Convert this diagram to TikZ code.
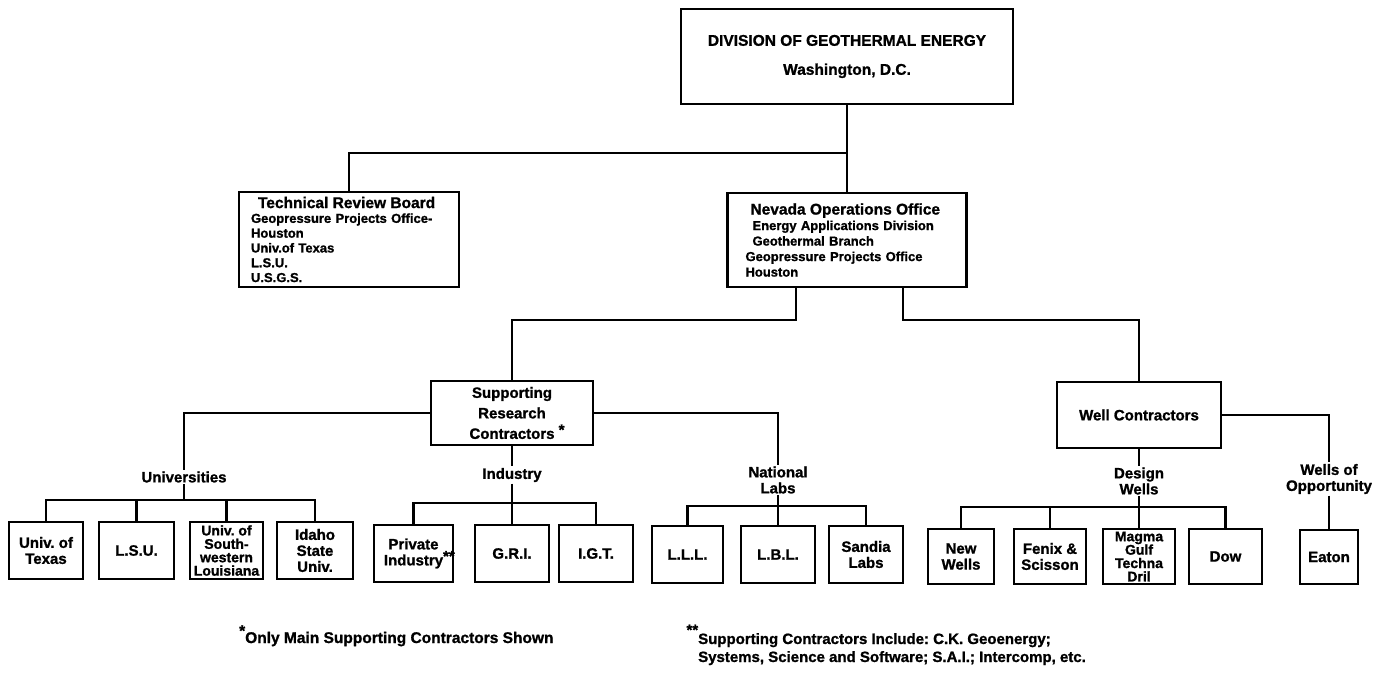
\documentclass[tikz,border=0pt]{standalone}
\usepackage{fontspec}
\setmainfont{Liberation Sans}[BoldFeatures={FakeBold=1.2}]
\frenchspacing
\newcommand\fmain{\fontsize{15}{16}\selectfont}
\newcommand\ftight{\fontsize{14}{13.4}\selectfont}
\begin{document}
\begin{tikzpicture}[x=1pt,y=-1pt,
  every node/.style={font=\bfseries\fmain},
  box/.style={draw, line width=2.4pt, inner sep=0pt, align=center},
  leaf/.style={box, minimum height=57pt},
  lbl/.style={inner sep=1.5pt, align=center},
  ln/.style={line width=2.4pt}]
\useasboundingbox (0,0) rectangle (1388,691);
% top level
\node[box, minimum width=332pt, minimum height=95pt, font=\bfseries\fontsize{15.5}{29}\selectfont] (doe) at (847,56.5) {DIVISION OF GEOTHERMAL ENERGY\\Washington, D.C.};
\node[box, minimum width=220pt, minimum height=95pt, text width=196pt, align=left, font=\bfseries\fontsize{13}{14.8}\selectfont] (trb) at (349,239.5)
 {{\fontsize{15.5}{14.8}\selectfont\hspace*{7pt}Technical Review Board}\\Geopressure Projects Office-\\Houston\\Univ.of Texas\\L.S.U.\\U.S.G.S.};
\node[box, minimum width=239pt, minimum height=94pt, text width=203pt, align=left, font=\bfseries\fontsize{13}{15.5}\selectfont] (nvo) at (847,240)
 {{\fontsize{15.5}{15.5}\selectfont\hspace*{5pt}Nevada Operations Office}\\\hspace*{7pt}Energy Applications Division\\\hspace*{7pt}Geothermal Branch\\Geopressure Projects Office\\Houston};
\node[box, minimum width=162pt, minimum height=64pt, font=\bfseries\fontsize{15}{20.5}\selectfont] (src) at (512,413) {Supporting\\Research\\Contractors\rlap{\ \raisebox{4pt}{*}}};
\node[box, minimum width=164pt, minimum height=66pt] (wc) at (1139,415) {Well Contractors};
% group labels
\node[lbl] (uni) at (184,477) {Universities};
\node[lbl] (ind) at (512,475) {Industry};
\node[lbl] (nat) at (778,480) {National\\Labs};
\node[lbl] (dw) at (1139,481) {Design\\Wells};
\node[lbl] (wop) at (1329,479) {Wells of\\Opportunity};
% universities
\node[leaf, minimum width=74pt] (u1) at (46,550.5) {Univ. of\\Texas};
\node[leaf, minimum width=75pt] (u2) at (136.5,550.5) {L.S.U.};
\node[leaf, minimum width=73pt, font=\bfseries\ftight] (u3) at (226.5,550.5) {Univ. of\\South-\\western\\Louisiana};
\node[leaf, minimum width=76pt] (u4) at (315,550.5) {Idaho\\State\\Univ.};
% industry
\node[leaf, minimum width=79pt] (i1) at (413.5,553.5) {Private\\Industry\rlap{\raisebox{4pt}{**}}};
\node[leaf, minimum width=74pt] (i2) at (512,553.5) {G.R.I.};
\node[leaf, minimum width=74pt] (i3) at (596,553.5) {I.G.T.};
% labs
\node[leaf, minimum width=71pt] (l1) at (687.5,554.5) {L.L.L.};
\node[leaf, minimum width=74pt] (l2) at (778,554.5) {L.B.L.};
\node[leaf, minimum width=74pt] (l3) at (866,554.5) {Sandia\\Labs};
% wells
\node[leaf, minimum width=66pt, minimum height=55pt] (w1) at (961,556.5) {New\\Wells};
\node[leaf, minimum width=72pt, minimum height=55pt] (w2) at (1050,556.5) {Fenix \&\\Scisson};
\node[leaf, minimum width=72pt, minimum height=55pt, font=\bfseries\ftight] (w3) at (1139,556.5) {Magma\\Gulf\\Techna\\Dril};
\node[leaf, minimum width=73pt, minimum height=55pt] (w4) at (1225.5,556.5) {Dow};
\node[leaf, minimum width=58pt, minimum height=54pt] (e1) at (1329,557) {Eaton};
% footnotes
\node[anchor=base west, inner sep=0pt, font=\bfseries\fontsize{15.5}{16}\selectfont] (fn1) at (245,643) {\llap{\raisebox{7pt}{*}}Only Main Supporting Contractors Shown};
\node[anchor=base west, inner sep=0pt, font=\bfseries\fontsize{15}{16}\selectfont] (fn2) at (698,644) {\llap{\raisebox{9pt}{**}}Supporting Contractors Include: C.K. Geoenergy;};
\node[anchor=base west, inner sep=0pt, font=\bfseries\fontsize{15}{16}\selectfont] (fn3) at (698,662) {Systems, Science and Software; S.A.I.; Intercomp, etc.};
% connectors
\coordinate (j0) at (847,153);
\draw[ln] (doe.south) -- (j0) -| (trb.north);
\draw[ln] (j0) -- (nvo.north);
\coordinate (c796) at (796,320);
\coordinate (c903) at (903,320);
\draw[ln] (c796 |- nvo.south) -- (c796) -| (src.north);
\draw[ln] (c903 |- nvo.south) -- (c903) -| (wc.north);
% universities
\coordinate (ub) at (184,500);
\draw[ln] (src.west) -| (uni.north);
\draw[ln] (uni.south) -- (ub);
\draw[ln] (u1.north) |- (ub) -| (u4.north);
\draw[ln] (u2.north) -- (u2.north |- ub);
\draw[ln] (u3.north) -- (u3.north |- ub);
% industry
\coordinate (ib) at (512,503);
\draw[ln] (src.south) -- (ind.north);
\draw[ln] (ind.south) -- (i2.north);
\draw[ln] (i1.north) |- (ib) -| (i3.north);
% labs
\coordinate (lb) at (778,506);
\draw[ln] (src.east) -| (nat.north);
\draw[ln] (nat.south) -- (l2.north);
\draw[ln] (l1.north) |- (lb) -| (l3.north);
% wells
\coordinate (wb) at (1139,507);
\draw[ln] (wc.south) -- (dw.north);
\draw[ln] (dw.south) -- (w3.north);
\draw[ln] (w1.north) |- (wb) -| (w4.north);
\draw[ln] (w2.north) -- (w2.north |- wb);
\draw[ln] (wc.east) -| (wop.north);
\draw[ln] (wop.south) -- (e1.north);
\end{tikzpicture}
\end{document}
